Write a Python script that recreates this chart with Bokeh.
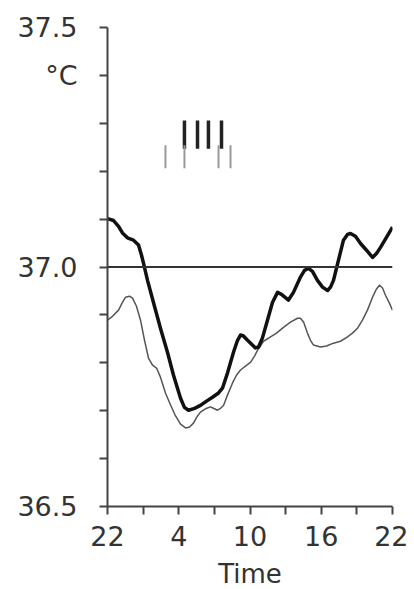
from bokeh.plotting import figure
from bokeh.models import Range1d, FixedTicker, Span
from bokeh.embed import file_html
from bokeh.resources import INLINE

# hours after 22:00
thick_hours = [0.00, 0.51, 0.93, 1.26, 1.68, 2.19, 2.61, 2.86, 3.03, 3.37, 3.87, 4.46,
               5.05, 5.56, 6.15, 6.48, 6.82, 7.33, 7.83, 8.34, 8.84, 9.35, 9.68, 10.11,
               10.61, 10.95, 11.20, 11.45, 11.79, 12.46, 12.72, 13.05, 13.47, 13.89,
               14.32, 14.65, 15.24, 15.66, 16.25, 16.59, 16.93, 17.26, 17.68, 18.11,
               18.53, 18.78, 19.03, 19.45, 19.87, 20.21, 20.46, 20.88, 21.31, 21.81,
               22.32, 22.65, 22.99, 23.49, 24.00]
thick_temp = [37.101, 37.097, 37.085, 37.071, 37.061, 37.056, 37.046, 37.025, 37.008,
              36.972, 36.926, 36.872, 36.822, 36.774, 36.726, 36.707, 36.701, 36.705,
              36.711, 36.720, 36.728, 36.737, 36.747, 36.779, 36.822, 36.847, 36.858,
              36.856, 36.847, 36.831, 36.833, 36.852, 36.889, 36.926, 36.947, 36.943,
              36.931, 36.947, 36.979, 36.993, 36.997, 36.991, 36.972, 36.958, 36.951,
              36.958, 36.972, 37.014, 37.056, 37.068, 37.070, 37.064, 37.049, 37.035,
              37.020, 37.028, 37.041, 37.062, 37.083]

thin_hours = [0.00, 0.42, 0.93, 1.26, 1.52, 1.85, 2.11, 2.44, 2.78, 3.12, 3.45, 3.79,
              4.13, 4.46, 4.88, 5.31, 5.73, 6.15, 6.57, 6.91, 7.24, 7.58, 7.83, 8.25,
              8.67, 9.01, 9.26, 9.52, 9.77, 10.11, 10.53, 10.86, 11.20, 11.62, 12.04,
              12.38, 12.63, 13.14, 13.73, 14.23, 14.82, 15.41, 16.00, 16.25, 16.51,
              16.84, 17.09, 17.35, 17.94, 18.44, 19.03, 19.62, 20.21, 20.63, 21.05,
              21.47, 21.89, 22.32, 22.65, 22.91, 23.16, 23.41, 23.75, 24.00]
thin_temp = [36.889, 36.897, 36.910, 36.926, 36.937, 36.939, 36.935, 36.918, 36.889,
             36.847, 36.810, 36.795, 36.789, 36.770, 36.737, 36.712, 36.689, 36.672,
             36.664, 36.666, 36.674, 36.689, 36.697, 36.704, 36.708, 36.704, 36.701,
             36.705, 36.711, 36.733, 36.758, 36.774, 36.785, 36.793, 36.801, 36.814,
             36.826, 36.845, 36.854, 36.862, 36.874, 36.885, 36.893, 36.893, 36.885,
             36.862, 36.847, 36.837, 36.833, 36.835, 36.841, 36.845, 36.854, 36.862,
             36.872, 36.889, 36.910, 36.937, 36.954, 36.962, 36.956, 36.941, 36.924,
             36.910]

# event markers (hours after 22:00)
upper_marks = [6.48, 7.58, 8.5, 9.6]
lower_marks = [4.88, 6.48, 9.35, 10.36]
upper_span = (37.247, 37.306)
lower_span = (37.206, 37.254)

x_ticks = [0, 3, 6, 9, 12, 15, 18, 21, 24]
x_labels = {0: "22", 3: "", 6: "4", 9: "", 12: "10", 15: "", 18: "16", 21: "", 24: "22"}
y_ticks = [36.5, 36.6, 36.7, 36.8, 36.9, 37.0, 37.1, 37.2, 37.3, 37.4, 37.5]
y_labels = {36.5: "36.5", 36.6: "", 36.7: "", 36.8: "", 36.9: "", 37.0: "37.0",
            37.1: "", 37.2: "", 37.3: "", 37.4: "°C", 37.5: "37.5"}

FONT = "DejaVu Sans"
TXT = "#333333"
AX = "#444444"

p = figure(width=408, height=586, output_backend="svg", toolbar_location=None,
           x_range=Range1d(0, 24), y_range=Range1d(36.5, 37.5),
           min_border_left=107, min_border_top=27, min_border_right=16,
           min_border_bottom=80)
p.frame_width = 285
p.frame_height = 479
p.outline_line_color = None
p.grid.visible = False
p.background_fill_color = "white"

# reference line at 37.0
p.add_layout(Span(location=37.0, dimension="width", line_color="#333333", line_width=2))

p.line(thin_hours, thin_temp, line_color="#555555", line_width=1.5, line_join="round")
p.line(thick_hours, thick_temp, line_color="#111111", line_width=3.5, line_join="round")

p.segment(x0=upper_marks, y0=[upper_span[0]] * 4, x1=upper_marks, y1=[upper_span[1]] * 4,
          line_color="#222222", line_width=3.5)
p.segment(x0=lower_marks, y0=[lower_span[0]] * 4, x1=lower_marks, y1=[lower_span[1]] * 4,
          line_color="#999999", line_width=2)

for ax in (p.xaxis[0], p.yaxis[0]):
    ax.axis_line_color = AX
    ax.axis_line_width = 2
    ax.major_tick_line_color = AX
    ax.major_tick_line_width = 2
    ax.major_tick_out = 8
    ax.major_tick_in = 0
    ax.minor_tick_line_color = None
    ax.major_label_text_font = FONT
    ax.major_label_text_font_size = "27px"
    ax.major_label_text_color = TXT

p.xaxis.ticker = FixedTicker(ticks=x_ticks)
p.xaxis.major_label_overrides = x_labels
p.xaxis.major_label_standoff = 11
p.xaxis.axis_label = "Time"
p.xaxis.axis_label_text_font = FONT
p.xaxis.axis_label_text_font_size = "26px"
p.xaxis.axis_label_text_font_style = "normal"
p.xaxis.axis_label_text_color = TXT
p.xaxis.axis_label_standoff = 10

p.yaxis.ticker = FixedTicker(ticks=y_ticks)
p.yaxis.major_label_overrides = y_labels
p.yaxis.major_label_standoff = 22

open("out.html", "w").write(file_html(p, INLINE))
